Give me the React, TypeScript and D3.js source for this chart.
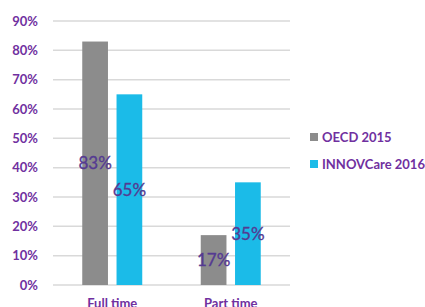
import React from "react";
import * as d3 from "d3";

const categories = ["Full time", "Part time"];
const seriesNames = ["OECD 2015", "INNOVCare 2016"];
const oecd = [83, 17];
const innov = [65, 35];
const yTicks = [0, 10, 20, 30, 40, 50, 60, 70, 80, 90];
const colors = ["#8C8C8C", "#1BBBE8"];

export default function App() {
  const W = 425, H = 307;
  const x0 = d3.scaleBand<string>().domain(categories).range([53, 290]).paddingInner(0).paddingOuter(0);
  const x1 = d3.scaleBand<string>().domain(seriesNames).range([-30, 30]).paddingInner(0.25);
  const y = d3.scaleLinear().domain([0, 90]).range([285, 21]);
  const series = [oecd, innov];
  const purple = "#7030A0";
  const labelColor = "#553A92";
  const font = "Lato, 'Open Sans', sans-serif";
  return (
    <svg width={W} height={H} style={{ position: "absolute", left: 0, top: 0, display: "block" }}>
      <rect width={W} height={H} fill="#fff" />
      {yTicks.map((t) => (
        <g key={t}>
          <line x1={53} x2={290} y1={y(t)} y2={y(t)} stroke="#D9D9D9" strokeWidth={1.5} />
          <text x={38} y={y(t)} dy="0.35em" textAnchor="end" fontFamily={font} fontWeight="bold" fontSize={13} fill={purple}>
            {t}%
          </text>
        </g>
      ))}
      {categories.map((c, ci) => {
        const cx = (x0(c) as number) + x0.bandwidth() / 2;
        return (
          <g key={c}>
            {seriesNames.map((s, si) => {
              const v = series[si][ci];
              const bx = cx + (x1(s) as number);
              const bw = x1.bandwidth();
              return (
                <g key={s}>
                  <rect x={bx} y={y(v)} width={bw} height={y(0) - y(v)} fill={colors[si]} />
                  <text x={bx + bw / 2} y={(y(v) + y(0)) / 2} dy="0.35em" textAnchor="middle" fontFamily={font} fontSize={17} fill={labelColor} stroke={labelColor} strokeWidth={0.35}>
                    {v}%
                  </text>
                </g>
              );
            })}
            <text x={cx} y={308} textAnchor="middle" fontFamily={font} fontWeight="bold" fontSize={13} fill={purple}>
              {c}
            </text>
          </g>
        );
      })}
      {seriesNames.map((s, si) => (
        <g key={s} transform={`translate(310, ${133 + si * 27})`}>
          <rect x={0} y={0} width={8} height={8} fill={colors[si]} />
          <text x={12} y={4} dy="0.35em" fontFamily={font} fontWeight="bold" fontSize={13} fill={purple}>
            {s}
          </text>
        </g>
      ))}
    </svg>
  );
}
